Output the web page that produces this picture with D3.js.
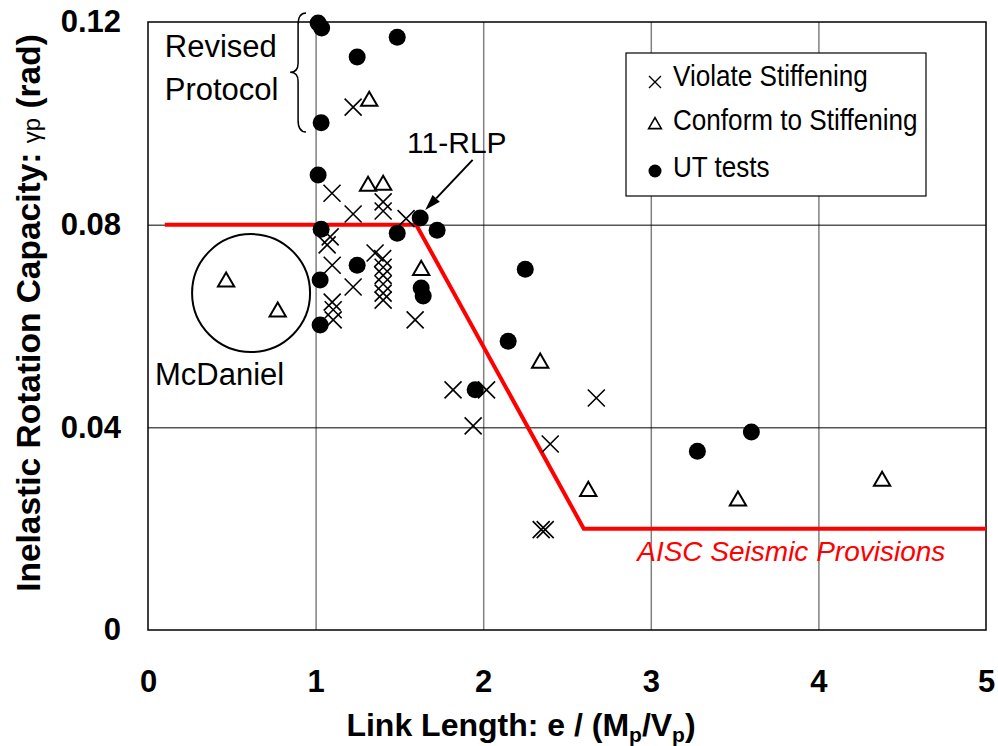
<!DOCTYPE html>
<html>
<head>
<meta charset="utf-8">
<script src="https://cdn.jsdelivr.net/npm/d3@7"></script>
<style>
  body { margin: 0; background: #fff; }
  svg { display: block; }
  text { font-family: 'Liberation Sans', Arial, sans-serif; fill: #000; }
</style>
</head>
<body>
<div id="chart"></div>
<script>
// x = e/(Mp/Vp), y = inelastic rotation (rad)
const violate = [
  [1.224, 0.1032], [1.098, 0.0862], [1.224, 0.0821], [1.403, 0.0845], [1.403, 0.0827],
  [1.54, 0.0812], [1.087, 0.0776], [1.069, 0.0760], [1.099, 0.0720], [1.224, 0.0677],
  [1.099, 0.0647], [1.105, 0.0632], [1.105, 0.0612], [1.355, 0.0744], [1.400, 0.0733],
  [1.403, 0.0716], [1.403, 0.0700], [1.403, 0.0683], [1.403, 0.0665], [1.403, 0.0651],
  [1.594, 0.0612], [1.82, 0.0474], [2.02, 0.0474], [1.94, 0.0403], [2.675, 0.0458],
  [2.40, 0.0367], [2.346, 0.0198], [2.37, 0.0198]
];
const conform = [
  [0.466, 0.0687], [0.774, 0.0628], [1.32, 0.1044], [1.313, 0.0876], [1.403, 0.0878],
  [1.63, 0.0710], [2.34, 0.0527], [2.627, 0.0274], [3.52, 0.0255], [4.38, 0.0294]
];
const utTests = [
  [1.015, 0.1198], [1.036, 0.1188], [1.248, 0.1131], [1.487, 0.1170], [1.033, 0.1001],
  [1.015, 0.0898], [1.033, 0.0791], [1.487, 0.0783], [1.624, 0.0813], [1.725, 0.0789],
  [1.248, 0.0720], [1.027, 0.0691], [1.027, 0.0602], [1.630, 0.0675], [1.642, 0.0659],
  [2.251, 0.0712], [2.149, 0.0570], [1.952, 0.0474], [3.278, 0.0353], [3.600, 0.0391]
];
const aiscLine = [[0.1, 0.08], [1.6, 0.08], [2.6, 0.02], [5, 0.02]];

const xTicks = [0, 1, 2, 3, 4, 5];
const yTicks = [0, 0.04, 0.08, 0.12];
const yTickLabels = ['0', '0.04', '0.08', '0.12'];
const legendLabels = ['Violate Stiffening', 'Conform to Stiffening', 'UT tests'];

const W = 998, H = 746;
const margin = { top: 22, right: 12, bottom: 116, left: 148 };
const width = W - margin.left - margin.right;
const height = H - margin.top - margin.bottom;

const svg = d3.select('#chart').append('svg')
  .attr('width', W).attr('height', H);

const g = svg.append('g').attr('transform', `translate(${margin.left},${margin.top})`);

const x = d3.scaleLinear().domain([0, 5]).range([0, width]);
const y = d3.scaleLinear().domain([0, 0.12]).range([height, 0]);

// grid
g.append('g')
  .attr('transform', `translate(0,${height})`)
  .call(d3.axisBottom(x).tickValues([1, 2, 3, 4]).tickSize(-height).tickFormat(''))
  .call(a => a.select('.domain').remove())
  .call(a => a.selectAll('line').attr('stroke', '#808080').attr('stroke-width', 1.5));

g.append('g')
  .call(d3.axisLeft(y).tickValues([0.04, 0.08]).tickSize(-width).tickFormat(''))
  .call(a => a.select('.domain').remove())
  .call(a => a.selectAll('line').attr('stroke', '#000').attr('stroke-width', 1));

// tick labels
g.append('g')
  .attr('transform', `translate(0,${height})`)
  .call(d3.axisBottom(x).tickValues(xTicks).tickSize(0).tickPadding(40).tickFormat(d3.format('d')))
  .call(a => a.select('.domain').remove())
  .call(a => a.selectAll('text')
    .style('font-family', "'Liberation Sans', Arial, sans-serif")
    .attr('font-size', 31).attr('font-weight', 'bold').attr('fill', '#000'));

g.append('g')
  .call(d3.axisLeft(y).tickValues(yTicks).tickSize(0).tickPadding(27)
    .tickFormat((d, i) => yTickLabels[i]))
  .call(a => a.select('.domain').remove())
  .call(a => a.selectAll('text')
    .style('font-family', "'Liberation Sans', Arial, sans-serif")
    .attr('font-size', 31).attr('font-weight', 'bold').attr('fill', '#000'));

// frame
g.append('rect')
  .attr('width', width).attr('height', height)
  .attr('fill', 'none').attr('stroke', '#000').attr('stroke-width', 1.5);

// AISC provisions line
g.append('path')
  .datum(aiscLine)
  .attr('d', d3.line().x(d => x(d[0])).y(d => y(d[1])))
  .attr('fill', 'none').attr('stroke', '#ff0000').attr('stroke-width', 4);

// markers
const crossType = { draw(ctx, s) {
  const r = Math.sqrt(s) / 2;
  ctx.moveTo(-r, -r); ctx.lineTo(r, r);
  ctx.moveTo(-r, r); ctx.lineTo(r, -r);
} };

g.append('g').selectAll('path')
  .data(violate).join('path')
  .attr('transform', d => `translate(${x(d[0])},${y(d[1])})`)
  .attr('d', d3.symbol().type(crossType).size(289))
  .attr('fill', 'none').attr('stroke', '#000').attr('stroke-width', 1.6);

g.append('g').selectAll('path')
  .data(conform).join('path')
  .attr('transform', d => `translate(${x(d[0])},${y(d[1])})`)
  .attr('d', d3.symbol().type(d3.symbolTriangle).size(115))
  .attr('fill', 'none').attr('stroke', '#000').attr('stroke-width', 2);

g.append('g').selectAll('circle')
  .data(utTests).join('circle')
  .attr('cx', d => x(d[0])).attr('cy', d => y(d[1]))
  .attr('r', 8.5).attr('fill', '#000');

// annotations
g.append('text').attr('x', x(0.10)).attr('y', y(0.1131)).attr('font-size', 31).text('Revised');
g.append('text').attr('x', x(0.10)).attr('y', y(0.1046)).attr('font-size', 31).text('Protocol');

{
  const xt = x(0.848), xe = x(0.943), xm = (xt + xe) / 2;
  const yT = y(0.1218), yB = y(0.0983), yM = y(0.1101);
  g.append('path')
    .attr('d', `M${xe},${yT} Q${xm},${yT} ${xm},${yT + 12} L${xm},${yM - 9} Q${xm},${yM} ${xt},${yM}` +
      ` Q${xm},${yM} ${xm},${yM + 9} L${xm},${yB - 12} Q${xm},${yB} ${xe},${yB}`)
    .attr('fill', 'none').attr('stroke', '#000').attr('stroke-width', 1.5);
}

g.append('text').attr('x', x(1.546)).attr('y', y(0.0941)).attr('font-size', 30).text('11-RLP');

{
  const x1 = x(1.937), y1 = y(0.0928), x2 = x(1.654), y2 = y(0.0829);
  const ang = Math.atan2(y2 - y1, x2 - x1);
  const L = 16, w = 5;
  const bx = x2 - L * Math.cos(ang), by = y2 - L * Math.sin(ang);
  g.append('line').attr('x1', x1).attr('y1', y1).attr('x2', bx).attr('y2', by)
    .attr('stroke', '#000').attr('stroke-width', 2);
  g.append('path')
    .attr('d', `M${x2},${y2} L${bx + w * Math.sin(ang)},${by - w * Math.cos(ang)} L${bx - w * Math.sin(ang)},${by + w * Math.cos(ang)} Z`)
    .attr('fill', '#000');
}

g.append('circle')
  .attr('cx', x(0.615)).attr('cy', y(0.0665)).attr('r', x(0.352) - x(0))
  .attr('fill', 'none').attr('stroke', '#000').attr('stroke-width', 2);
g.append('text').attr('x', x(0.042)).attr('y', y(0.0484)).attr('font-size', 31).text('McDaniel');

g.append('text').attr('x', x(2.919)).attr('y', y(0.0136))
  .attr('font-size', 28).attr('font-style', 'italic').style('fill', '#ff0000')
  .text('AISC Seismic Provisions');

// legend
const leg = svg.append('g').attr('transform', 'translate(626,53)');
leg.append('rect').attr('width', 300).attr('height', 143)
  .attr('fill', '#fff').attr('stroke', '#000').attr('stroke-width', 1.2);
const rowY = [29, 72, 118];
leg.append('path').attr('transform', `translate(29,${rowY[0]})`)
  .attr('d', d3.symbol().type(crossType).size(144))
  .attr('fill', 'none').attr('stroke', '#000').attr('stroke-width', 1.4);
leg.append('path').attr('transform', `translate(29,${rowY[1]})`)
  .attr('d', d3.symbol().type(d3.symbolTriangle).size(70))
  .attr('fill', 'none').attr('stroke', '#000').attr('stroke-width', 1.6);
leg.append('circle').attr('cx', 29).attr('cy', rowY[2]).attr('r', 6.5).attr('fill', '#000');
legendLabels.forEach((t, i) => {
  leg.append('text')
    .attr('transform', `translate(47,${rowY[i] + 4 + i}) scale(0.87,1)`)
    .attr('font-size', 30).text(t);
});

// axis titles
svg.append('text')
  .attr('x', 521).attr('y', 736).attr('text-anchor', 'middle')
  .attr('font-size', 32).attr('font-weight', 'bold')
  .call(t => {
    t.append('tspan').text('Link Length: e / (M');
    t.append('tspan').attr('font-size', 21).attr('dy', 6).text('p');
    t.append('tspan').attr('dy', -6).text('/V');
    t.append('tspan').attr('font-size', 21).attr('dy', 6).text('p');
    t.append('tspan').attr('dy', -6).text(')');
  });

svg.append('text')
  .attr('transform', 'translate(40,313) rotate(-90)')
  .attr('text-anchor', 'middle')
  .attr('font-size', 33.5).attr('font-weight', 'bold')
  .call(t => {
    t.append('tspan').text('Inelastic Rotation Capacity: ');
    t.append('tspan').attr('font-weight', 'normal').attr('font-size', 24).text('γp');
    t.append('tspan').text(' (rad)');
  });
</script>
</body>
</html>
